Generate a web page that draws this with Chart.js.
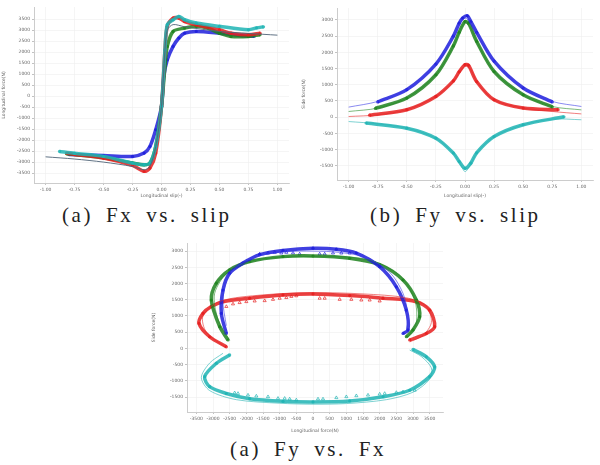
<!DOCTYPE html>
<html lang="en">
<head>
    <meta charset="UTF-8">
    <title>Tire force curves</title>
    <script src="https://cdn.jsdelivr.net/npm/chart.js"></script>
    <style>
        body {
            margin: 0;
            width: 600px;
            height: 465px;
            background: #ffffff;
            position: relative;
            overflow: hidden;
        }

        canvas {
            position: absolute;
        }

        .caption {
            position: absolute;
            font-family: "Liberation Serif", serif;
            font-size: 21px;
            letter-spacing: 2.6px;
            word-spacing: 5px;
            color: #222;
            white-space: nowrap;
        }
    </style>
</head>
<body>
    <canvas id="chartA" width="300" height="200" style="left:0;top:0"></canvas>
    <canvas id="chartB" width="300" height="200" style="left:300px;top:0"></canvas>
    <canvas id="chartC" width="300" height="205" style="left:150px;top:230px"></canvas>

    <div class="caption" style="left:62px;top:203px">(a) Fx vs. slip</div>
    <div class="caption" style="left:370px;top:203px">(b) Fy vs. slip</div>
    <div class="caption" style="left:230px;top:437px">(a) Fy vs. Fx</div>

    <script>
        // tick labels
        const ticksSlip = [-1.0, -0.75, -0.5, -0.25, 0, 0.25, 0.5, 0.75, 1.0];
        const ticksFxA = [-3500, -3000, -2500, -2000, -1500, -1000, -500, 0, 500, 1000, 1500, 2000, 2500, 3000, 3500];
        const ticksFy = [-1500, -1000, -500, 0, 500, 1000, 1500, 2000, 2500, 3000];
        const ticksFxC = [-3500, -3000, -2500, -2000, -1500, -1000, -500, 0, 500, 1000, 1500, 2000, 2500, 3000, 3500];

        // ---- (a) Fx vs. slip ----
        const slipModelA = [-1.0, -0.75, -0.5, -0.25, -0.15, -0.1, -0.05, 0, 0.03, 0.05, 0.1, 0.2, 0.5, 0.75, 1.0];
        const fxModelA = [-2760, -2860, -3000, -3200, -3350, -3200, -2300, -470, 2100, 3000, 3250, 3150, 2940, 2850, 2770];

        const slipCyanA = [-0.88, -0.75, -0.5, -0.25, -0.15, -0.1, -0.05, 0, 0.03, 0.05, 0.1, 0.15, 0.2, 0.3, 0.5, 0.75, 0.82, 0.88];
        const fxCyanA = [-2515, -2600, -2740, -3045, -3120, -3045, -2290, -470, 2100, 3240, 3470, 3620, 3470, 3320, 3170, 3015, 3100, 3150];
        const slipRedA = [-0.82, -0.75, -0.5, -0.25, -0.15, -0.1, -0.05, 0, 0.03, 0.05, 0.1, 0.15, 0.2, 0.3, 0.5, 0.6, 0.75, 0.85];
        const fxRedA = [-2590, -2650, -2820, -3150, -3420, -3270, -2590, -470, 2100, 3170, 3545, 3545, 3390, 3240, 3015, 2860, 2790, 2860];
        const slipGreenA = [-0.82, -0.5, -0.25, -0.15, -0.1, -0.05, 0, 0.03, 0.05, 0.1, 0.2, 0.3, 0.4, 0.5, 0.6, 0.75, 0.85];
        const fxGreenA = [-2620, -2800, -3045, -3120, -3045, -2290, -470, 1350, 2260, 2940, 3090, 3170, 3090, 2860, 2710, 2710, 2790];
        const slipBlueA = [-0.8, -0.5, -0.25, -0.15, -0.1, -0.05, 0, 0.02, 0.05, 0.1, 0.15, 0.2, 0.3, 0.5, 0.75, 0.8];
        const fxBlueA = [-2650, -2700, -2740, -2590, -2290, -1530, -470, 890, 1650, 2260, 2640, 2860, 2940, 2860, 2720, 2720];

        // ---- (b) Fy vs. slip ----
        const slipModelB = [-1.0, -0.75, -0.5, -0.25, -0.1, -0.05, 0, 0.05, 0.1, 0.25, 0.5, 0.75, 1.0];
        const fyBlueModelB = [310, 485, 845, 1620, 2495, 2855, 3060, 2900, 2600, 1720, 900, 485, 330];
        const fyGreenModelB = [175, 280, 590, 1310, 2185, 2600, 2910, 2750, 2340, 1410, 690, 330, 225];
        const fyRedModelB = [20, 70, 230, 640, 1100, 1360, 1570, 1470, 1100, 535, 280, 175, 100];
        const fyCyanModelB = [-135, -205, -340, -650, -1110, -1370, -1680, -1450, -1110, -600, -235, -60, -80];

        const slipBlueB = [-0.75, -0.5, -0.25, -0.1, -0.05, -0.02, 0.02, 0.05, 0.1, 0.25, 0.5, 0.75];
        const fyBlueB = [470, 850, 1640, 2500, 2900, 3060, 3130, 2950, 2620, 1730, 900, 470];
        const slipGreenB = [-0.77, -0.5, -0.25, -0.1, -0.05, 0, 0.03, 0.1, 0.25, 0.5, 0.75];
        const fyGreenB = [270, 590, 1310, 2200, 2620, 2950, 2900, 2340, 1410, 690, 320];
        const slipRedB = [-0.82, -0.5, -0.25, -0.1, -0.05, 0, 0.03, 0.1, 0.25, 0.5, 0.8];
        const fyRedB = [60, 230, 640, 1120, 1400, 1620, 1600, 1100, 535, 280, 230];
        const slipCyanB = [-0.85, -0.5, -0.25, -0.1, -0.05, 0, 0.05, 0.1, 0.25, 0.5, 0.85];
        const fyCyanB = [-180, -340, -650, -1110, -1370, -1580, -1420, -1100, -600, -235, 10];

        // ---- (c) Fy vs. Fx ----
        const fxBlueC = [-2600, -2750, -2700, -2500, -2100, -1600, -900, 0, 700, 1300, 2000, 2500, 2800, 2850, 2700];
        const fyBlueC = [460, 1080, 1800, 2320, 2630, 2890, 3020, 3090, 3060, 2940, 2520, 1900, 1180, 570, 460];
        const fxGreenC = [-2550, -2800, -3050, -2900, -2500, -1900, -900, 0, 1100, 2000, 2700, 3100, 3200, 3000, 2800];
        const fyGreenC = [260, 670, 1490, 2010, 2420, 2680, 2830, 2850, 2780, 2580, 2110, 1490, 980, 570, 360];
        const fxRedC = [-2600, -3100, -3420, -3300, -3050, -2700, -1900, -900, 0, 1100, 2100, 3100, 3500, 3650, 3400, 2900];
        const fyRedC = [50, 360, 770, 1080, 1290, 1440, 1550, 1650, 1680, 1630, 1550, 1440, 1180, 670, 460, 260];
        const fxCyanC = [-2500, -2900, -3250, -3100, -2600, -1900, -900, 0, 1100, 2100, 2900, 3500, 3650, 3400, 3000];
        const fyCyanC = [-200, -460, -870, -1180, -1390, -1550, -1630, -1650, -1620, -1490, -1290, -870, -570, -260, -30];

        const fxBlueModelC = [-2600, -2700, -2500, -1800, -800, 0, 800, 1600, 2300, 2700, 2850, 2800];
        const fyBlueModelC = [700, 1500, 2300, 2800, 2980, 3000, 2960, 2800, 2350, 1700, 1000, 500];
        const fxGreenModelC = [-2500, -2850, -2950, -2500, -1600, 0, 1600, 2600, 3050, 3100, 2850];
        const fyGreenModelC = [250, 900, 1700, 2400, 2750, 2830, 2750, 2250, 1500, 800, 350];
        const fxRedModelC = [-2650, -3200, -3300, -2800, -1500, 0, 1500, 2800, 3400, 3550, 3300, 2900];
        const fyRedModelC = [50, 500, 1000, 1450, 1650, 1720, 1680, 1560, 1300, 800, 400, 200];
        const fxCyanModelC = [-2700, -3100, -3350, -3100, -2300, -1000, 0, 1000, 2200, 3000, 3500, 3550, 3250, 2900];
        const fyCyanModelC = [-150, -450, -900, -1300, -1580, -1690, -1720, -1700, -1580, -1350, -950, -600, -250, -50];

        const fxBlueTri = [-1600, -1350, -1150, -950, -800, -600, -400, 200, 350, 600, 850, 1100];
        const fyBlueTri = [2910, 2940, 2960, 2940, 2960, 2940, 2910, 2910, 2910, 2940, 2940, 2940];
        const fxRedTri = [-2600, -2400, -2200, -2000, -1750, -1450, -1200, -1000, -800, -650, -500, 200, 350, 800, 1150, 1450, 1700, 2000];
        const fyRedTri = [1290, 1370, 1410, 1440, 1460, 1470, 1510, 1545, 1565, 1600, 1620, 1545, 1545, 1510, 1510, 1490, 1490, 1460];
        const fxCyanTri = [-2350, -2250, -1950, -1700, -1350, -1050, -850, -700, -500, 150, 300, 700, 1000, 1300, 1650, 2000, 2150, 2500, 2700, 3050];
        const fyCyanTri = [-1370, -1390, -1440, -1470, -1490, -1540, -1540, -1560, -1590, -1560, -1560, -1520, -1490, -1460, -1440, -1410, -1390, -1360, -1340, -1290];

        const BLUE = 'rgba(30, 30, 220, 0.85)';
        const GREEN = 'rgba(30, 130, 30, 0.85)';
        const RED = 'rgba(230, 30, 30, 0.85)';
        const CYAN = 'rgba(30, 180, 180, 0.85)';

        function pts(xs, ys) {
            return xs.map((x, i) => ({ x: x, y: ys[i] }));
        }

        function measured(xs, ys, color) {
            return {
                data: pts(xs, ys), showLine: true, borderColor: color, backgroundColor: color,
                borderWidth: 3.5, pointRadius: 1.6, pointBorderWidth: 0, tension: 0.3
            };
        }

        function model(xs, ys, color) {
            return {
                data: pts(xs, ys), showLine: true, borderColor: color,
                borderWidth: 1, pointRadius: 0, tension: 0.3
            };
        }

        function tri(xs, ys, color) {
            return {
                data: pts(xs, ys), showLine: false, borderColor: color, backgroundColor: 'rgba(0,0,0,0)',
                pointStyle: 'triangle', pointRadius: 1.8, borderWidth: 0.8
            };
        }

        function axis(min, max, tickVals, title, fmt, fitSize, isY) {
            return {
                type: 'linear', min: min, max: max,
                afterBuildTicks: function (s) {
                    s.ticks = tickVals.map(v => ({ value: v }));
                },
                ticks: {
                    padding: 2, color: '#666', autoSkip: false, maxRotation: 0, minRotation: 0,
                    font: { size: 4.5, family: 'DejaVu Sans' },
                    callback: fmt
                },
                title: { display: true, text: title, color: '#666', padding: 1, font: { size: 4.5, family: 'DejaVu Sans' } },
                grid: { color: '#eeeeee', lineWidth: 0.6, tickLength: 2, tickColor: '#999' },
                border: { color: '#cccccc' },
                afterFit: function (s) {
                    if (isY) { s.width = fitSize; } else { s.height = fitSize; }
                }
            };
        }

        function makeChart(id, datasets, xAxis, yAxis, pad) {
            return new Chart(document.getElementById(id), {
                type: 'scatter',
                data: { datasets: datasets },
                options: {
                    responsive: false,
                    animation: false,
                    layout: { padding: pad },
                    plugins: { legend: { display: false }, tooltip: { enabled: false } },
                    scales: { x: xAxis, y: yAxis }
                }
            });
        }

        const fmt2 = v => Number(v).toFixed(2);
        const fmt0 = v => String(v);

        makeChart('chartA', [
            model(slipModelA, fxModelA, 'rgba(80, 100, 120, 0.9)'),
            measured(slipCyanA, fxCyanA, CYAN),
            measured(slipRedA, fxRedA, RED),
            measured(slipGreenA, fxGreenA, GREEN),
            measured(slipBlueA, fxBlueA, BLUE)
        ],
            axis(-1.1, 1.1, ticksSlip, 'Longitudinal slip(-)', fmt2, 17, false),
            axis(-3950, 4050, ticksFxA, 'Longitudinal force(N)', fmt0, 34, true),
            { top: 7, right: 11, left: 0, bottom: 0 });

        makeChart('chartB', [
            model(slipModelB, fyBlueModelB, 'rgba(60, 60, 230, 0.6)'),
            model(slipModelB, fyGreenModelB, 'rgba(40, 140, 40, 0.6)'),
            model(slipModelB, fyRedModelB, 'rgba(230, 40, 40, 0.6)'),
            model(slipModelB, fyCyanModelB, 'rgba(40, 180, 180, 0.6)'),
            measured(slipBlueB, fyBlueB, BLUE),
            measured(slipGreenB, fyGreenB, GREEN),
            measured(slipRedB, fyRedB, RED),
            measured(slipCyanB, fyCyanB, CYAN)
        ],
            axis(-1.1, 1.1, ticksSlip, 'Longitudinal slip(-)', fmt2, 20, false),
            axis(-1940, 3370, ticksFy, 'Side force(N)', fmt0, 37, true),
            { top: 8, right: 7, left: 0, bottom: 0 });

        makeChart('chartC', [
            model(fxBlueModelC, fyBlueModelC, 'rgba(60, 60, 230, 0.6)'),
            model(fxGreenModelC, fyGreenModelC, 'rgba(40, 140, 40, 0.6)'),
            model(fxRedModelC, fyRedModelC, 'rgba(230, 40, 40, 0.6)'),
            model(fxCyanModelC, fyCyanModelC, 'rgba(40, 180, 180, 0.6)'),
            measured(fxBlueC, fyBlueC, BLUE),
            measured(fxGreenC, fyGreenC, GREEN),
            measured(fxRedC, fyRedC, RED),
            measured(fxCyanC, fyCyanC, CYAN),
            tri(fxBlueTri, fyBlueTri, BLUE),
            tri(fxRedTri, fyRedTri, RED),
            tri(fxCyanTri, fyCyanTri, CYAN)
        ],
            axis(-3780, 3900, ticksFxC, 'Longitudinal force(N)', fmt0, 23, false),
            axis(-1960, 3250, ticksFy, 'Side force(N)', fmt0, 37, true),
            { top: 13, right: 7, left: 0, bottom: 0 });
    </script>
</body>
</html>
